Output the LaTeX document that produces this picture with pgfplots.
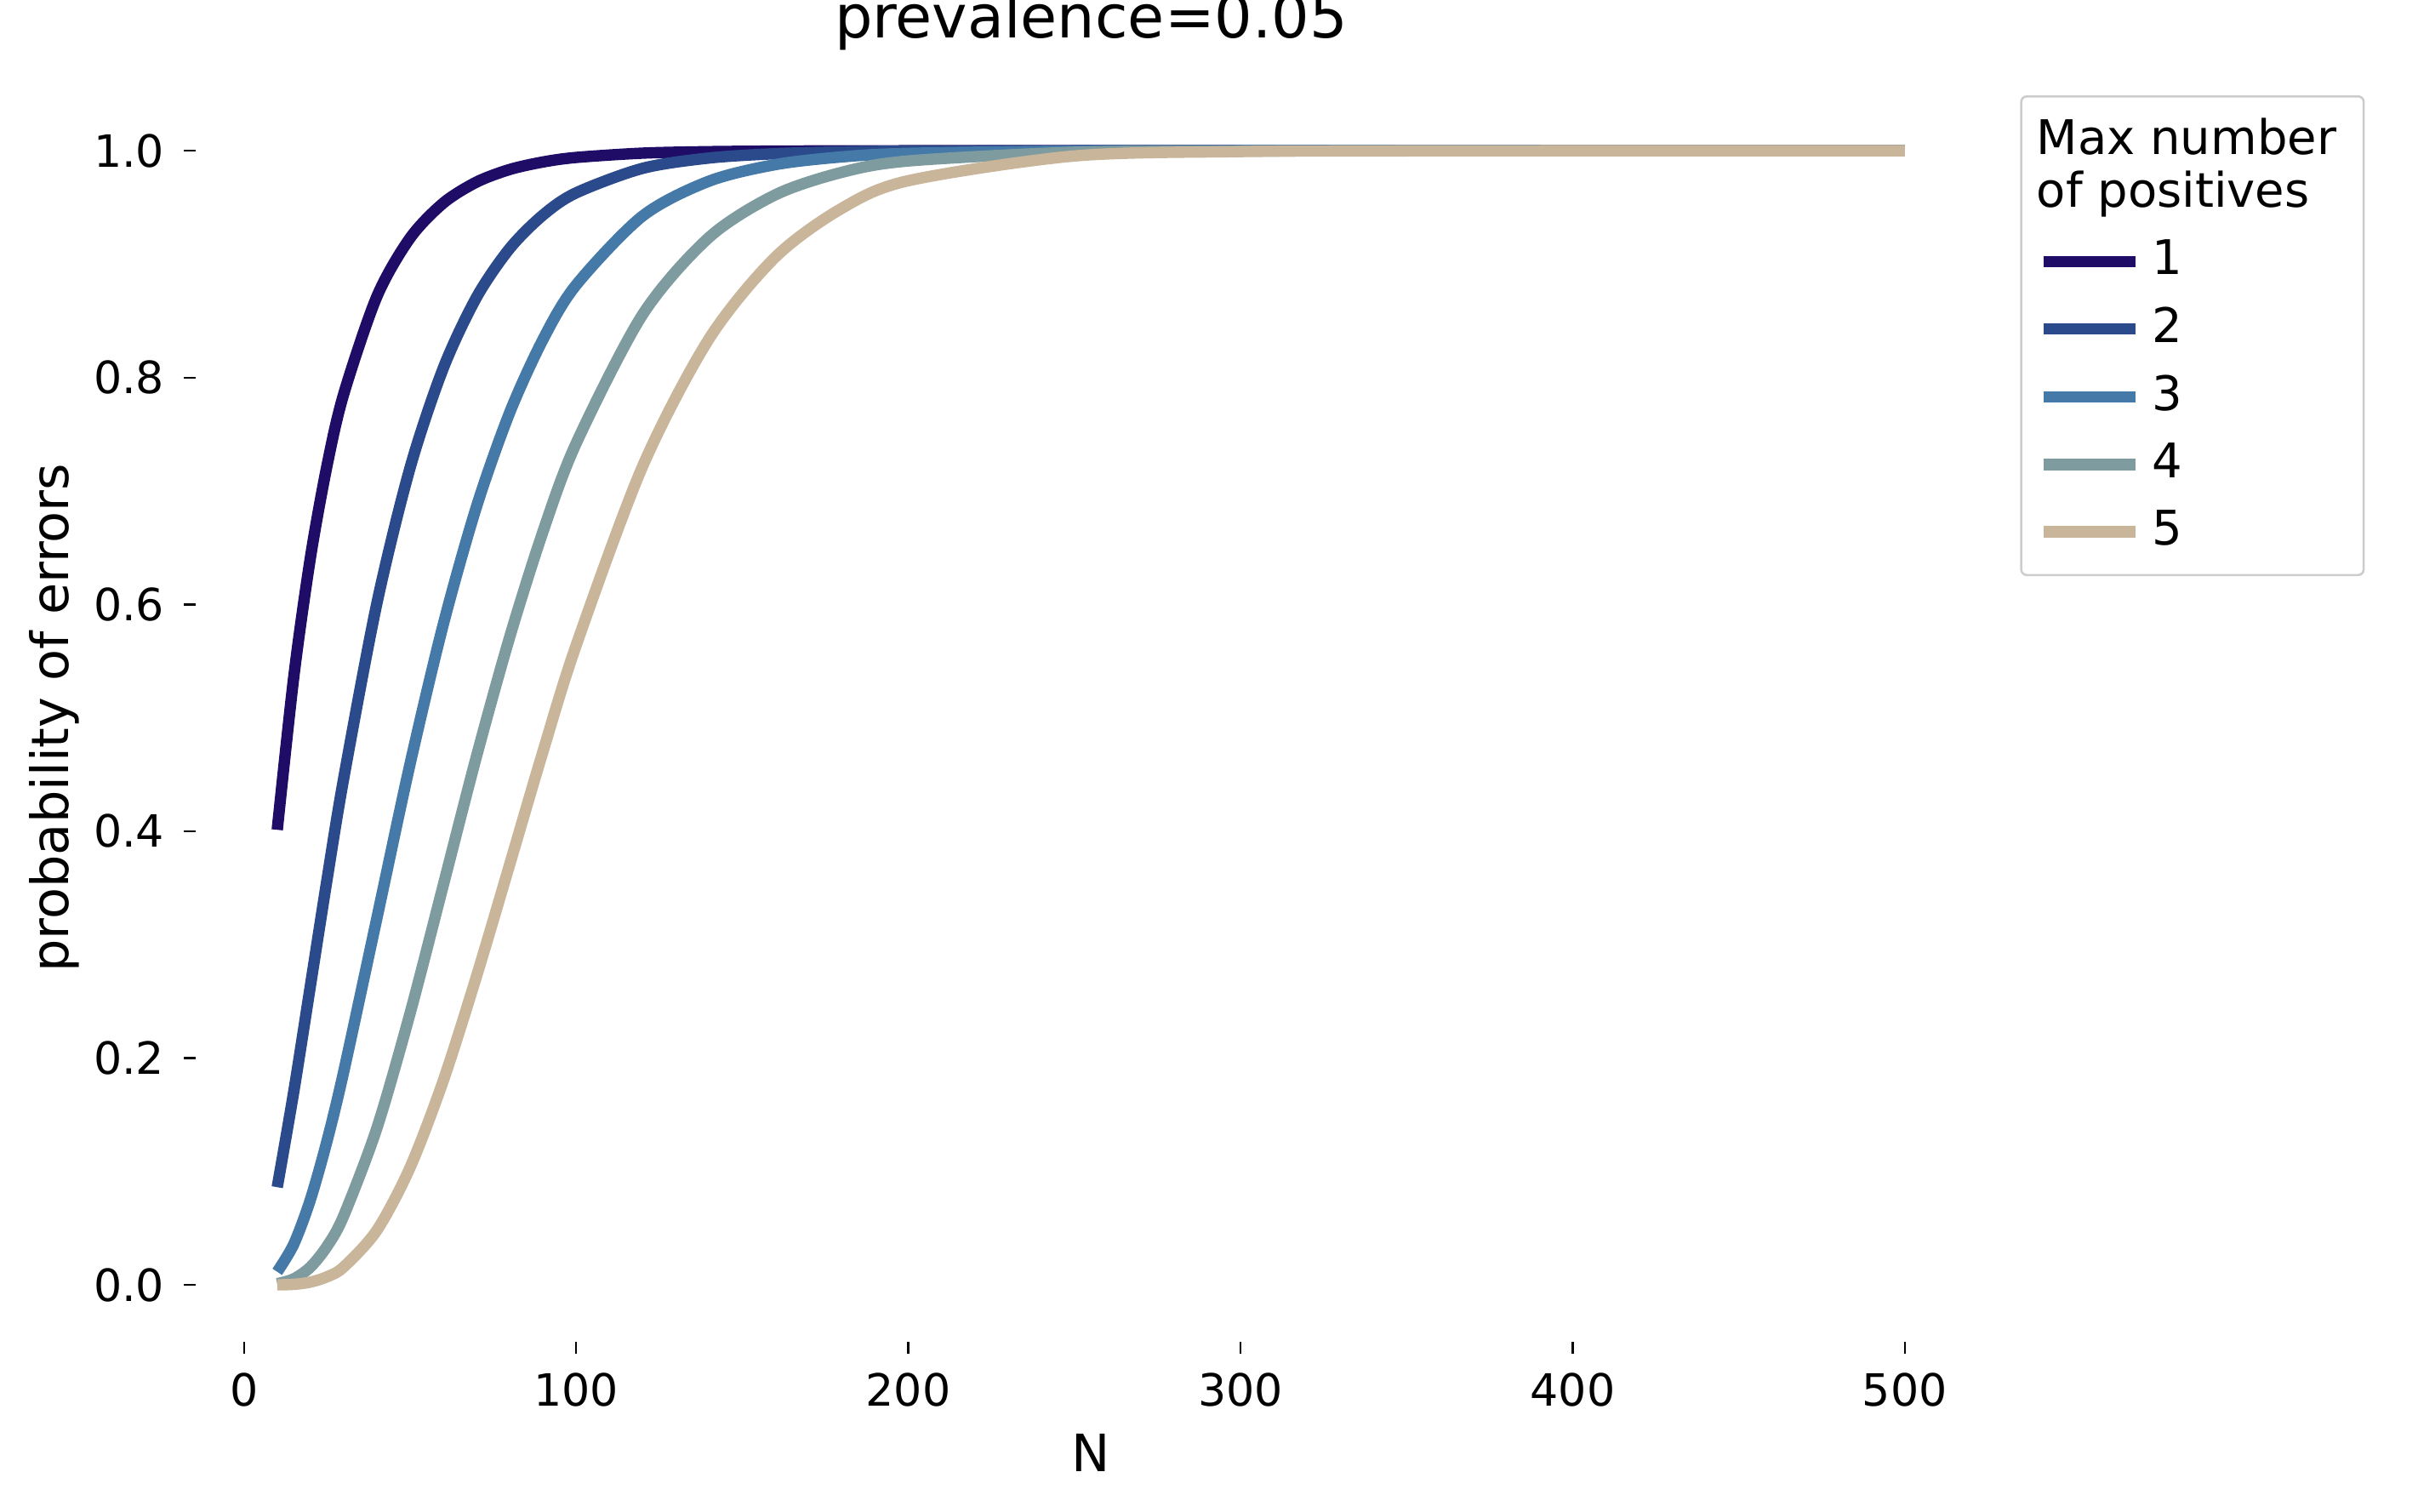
\documentclass[border=0pt]{standalone}
\usepackage{pgfplots}
\pgfplotsset{compat=1.18}
\usepackage{fontspec}
\setmainfont{DejaVu Sans}
\definecolor{c1}{HTML}{1F0C66}
\definecolor{c2}{HTML}{2B4A8C}
\definecolor{c3}{HTML}{4479A8}
\definecolor{c4}{HTML}{7E9CA0}
\definecolor{c5}{HTML}{C9B59A}
\pgfplotstableread{
N k1 k2 k3 k4 k5
10 0.4013 0.0862 0.0116 0.0011 0.0001
15 0.5367 0.1709 0.0361 0.0054 0.0005
20 0.6415 0.2641 0.0754 0.0158 0.0025
25 0.7226 0.3576 0.1271 0.0341 0.0072
30 0.7854 0.4465 0.1879 0.0609 0.0158
40 0.8715 0.6010 0.3234 0.1383 0.0482
50 0.9231 0.7206 0.4595 0.2396 0.1036
60 0.9539 0.8084 0.5825 0.3526 0.1802
70 0.9724 0.8708 0.6863 0.4662 0.2722
80 0.9835 0.9139 0.7693 0.5714 0.3709
90 0.9901 0.9433 0.8336 0.6642 0.4703
100 0.9941 0.9629 0.8817 0.7421 0.5640
120 0.9979 0.9845 0.9425 0.8556 0.7218
140 0.9992 0.9936 0.9732 0.9236 0.8342
160 0.9997 0.9974 0.9878 0.9612 0.9063
180 0.9999 0.9990 0.9946 0.9810 0.9493
200 1.0000 0.9996 0.9977 0.9910 0.9736
250 1.0000 1.0000 0.9997 0.9987 0.9954
300 1.0000 1.0000 1.0000 0.9998 0.9993
350 1.0000 1.0000 1.0000 1.0000 0.9999
400 1.0000 1.0000 1.0000 1.0000 1.0000
500 1.0000 1.0000 1.0000 1.0000 1.0000
}\data
\begin{document}
\begin{tikzpicture}
\begin{axis}[
 scale only axis, width=11.61cm, height=8.09cm,
 xmin=-14.5, xmax=524.5, ymin=-0.05, ymax=1.05,
 axis line style={draw=none},
 tick style={black, line width=0.4pt}, major tick length=0.8mm,
 tick align=outside, xtick pos=bottom, ytick pos=left,
 xtick={0,100,...,500}, ytick={0,0.2,...,1.0},
 yticklabel style={/pgf/number format/fixed,/pgf/number format/fixed zerofill,/pgf/number format/precision=1},
 /pgf/number format/assume math mode=true,
 ticklabel style={font=\fontsize{8.2}{10}\selectfont},
 xlabel={N}, ylabel={probability of errors},
 label style={font=\fontsize{9.5}{11}\selectfont},
 xlabel style={at={(rel axis cs:0.5,-0.089)}, anchor=center},
 ylabel style={at={(rel axis cs:-0.079,0.5)}, anchor=center},
 title={prevalence=0.05}, title style={font=\fontsize{11}{13}\selectfont, at={(rel axis cs:0.5,1.032)}, anchor=center},
 legend style={at={(1.019,0.999)}, anchor=north west, draw=black!20, rounded corners=1pt,
   font=\fontsize{8.8}{10.5}\selectfont, row sep=0.5pt, inner xsep=3pt},
 legend cell align=left,
 legend image code/.code={\draw[#1] (0cm,0cm) -- (0.6cm,0cm);},
 every axis plot/.append style={line width=2.1pt, smooth},
 clip=false,
]
\addlegendimage{empty legend}
\addlegendentry{\hspace{-0.75cm}\shortstack[l]{Max number\\of positives}}
\addplot[c1] table[x=N,y=k1]{\data}; \addlegendentry{1}
\addplot[c2] table[x=N,y=k2]{\data}; \addlegendentry{2}
\addplot[c3] table[x=N,y=k3]{\data}; \addlegendentry{3}
\addplot[c4] table[x=N,y=k4]{\data}; \addlegendentry{4}
\addplot[c5] table[x=N,y=k5]{\data}; \addlegendentry{5}
\coordinate (bl) at (rel axis cs:-0.1094,-0.136);
\coordinate (tr) at (rel axis cs:1.2412,1.0754);
\end{axis}
\pgfresetboundingbox
\path (bl) rectangle (tr);
\end{tikzpicture}
\end{document}
